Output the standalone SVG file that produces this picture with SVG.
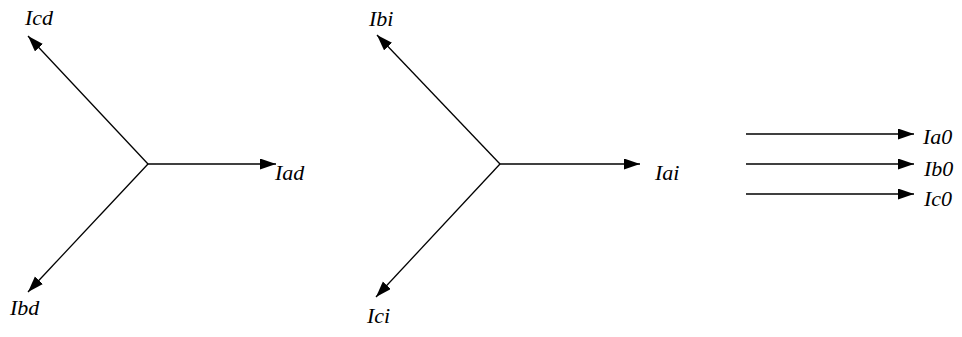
<svg xmlns="http://www.w3.org/2000/svg" width="962" height="337" viewBox="0 0 962 337">
<style>
.ln{stroke:#000;stroke-width:1.3;fill:none;marker-end:url(#ah)}
.lb{font-family:"Liberation Serif","Times New Roman",serif;font-style:italic;font-size:22px;fill:#000}
</style>
<defs>
<marker id="ah" markerUnits="userSpaceOnUse" markerWidth="17" markerHeight="12" refX="16" refY="5.5" orient="auto">
<path d="M0,0 L16,5.5 L0,11 Z" fill="#000"/>
</marker>
</defs>
<rect width="962" height="337" fill="#fff"/>
<g id="connectors">
<line class="ln" x1="148" y1="164" x2="276" y2="164"/>
<line class="ln" x1="148" y1="164" x2="28" y2="36"/>
<line class="ln" x1="148" y1="164" x2="28" y2="292"/>
<line class="ln" x1="500" y1="164" x2="640" y2="164"/>
<line class="ln" x1="500" y1="164" x2="377" y2="35"/>
<line class="ln" x1="500" y1="164" x2="376" y2="297"/>
<line class="ln" x1="746" y1="134" x2="914" y2="134"/>
<line class="ln" x1="746" y1="164" x2="914" y2="164"/>
<line class="ln" x1="746" y1="194" x2="914" y2="194"/>
</g>
<g id="Icd"><text class="lb" x="25" y="25">Icd</text></g>
<g id="Iad"><text class="lb" x="275" y="180">Iad</text></g>
<g id="Ibd"><text class="lb" x="10" y="315">Ibd</text></g>
<g id="Ibi"><text class="lb" x="369" y="26">Ibi</text></g>
<g id="Iai"><text class="lb" x="655" y="180">Iai</text></g>
<g id="Ici"><text class="lb" x="367" y="323">Ici</text></g>
<g id="Ia0"><text class="lb" x="923" y="144">Ia0</text></g>
<g id="Ib0"><text class="lb" x="924" y="176">Ib0</text></g>
<g id="Ic0"><text class="lb" x="924" y="206">Ic0</text></g>
</svg>
